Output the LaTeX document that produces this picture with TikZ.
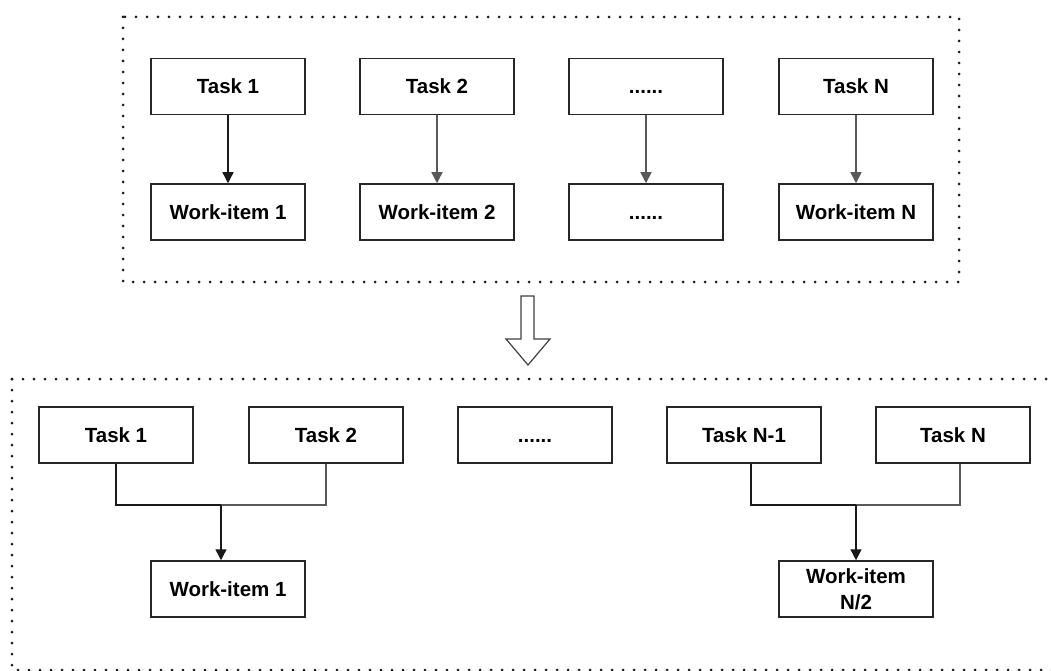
\documentclass[tikz,border=0pt]{standalone}
\usepackage{fontspec}
\setmainfont{Liberation Sans}
\usetikzlibrary{arrows.meta}
\begin{document}
\begin{tikzpicture}[x=1pt,y=-1pt,
  box/.style={draw=black!85,line width=1.5pt,minimum width=154pt,minimum height=56pt,inner sep=0pt,
    font=\fontsize{20.5}{26}\selectfont\bfseries,align=center},
  frame/.style={draw=black!90,line width=3pt,line cap=round,dash pattern=on 0pt off 11pt},
  conn/.style={line width=1.4pt,draw=black!90},
  arr/.style={conn,-{Triangle[length=11pt,width=11pt]}}]
\useasboundingbox (0,0) rectangle (1051,671);
% frames
\draw[frame] (123,17) rectangle (959,282);
\draw[frame] (12,379) -- (12,670) -- (1070,670);
\draw[frame] (12,379) -- (1070,379);
% top row
\node[box] (t1) at (228,86.5) {Task 1};
\node[box] (t2) at (437,86.5) {Task 2};
\node[box] (t3) at (646,86.5) {\vphantom{Tk}......};
\node[box] (t4) at (856,86.5) {Task N};
\node[box] (w1) at (228,212) {Work-item 1};
\node[box] (w2) at (437,212) {Work-item 2};
\node[box] (w3) at (646,212) {\vphantom{Tk}......};
\node[box] (w4) at (856,212) {Work-item N};
\draw[arr] (t1) -- (w1);
\draw[arr,draw=black!65] (t2) -- (w2);
\draw[arr,draw=black!65] (t3) -- (w3);
\draw[arr,draw=black!65] (t4) -- (w4);
% big hollow arrow
\draw[line width=1.2pt,draw=black!75,fill=white,line join=miter]
  (521,296) -- (534,296) -- (534,339) -- (550,339) -- (528,365) -- (506,339) -- (521,339) -- cycle;
% bottom row
\node[box] (b1) at (116,435) {Task 1};
\node[box] (b2) at (326,435) {Task 2};
\node[box] (b3) at (535,435) {\vphantom{Tk}......};
\node[box] (b4) at (744,435) {Task N-1};
\node[box] (b5) at (953,435) {Task N};
\node[box] (bw1) at (228,589) {Work-item 1};
\node[box] (bw2) at (856,589) {Work-item\\N/2};
\coordinate (j1) at (221,505);
\coordinate (j2) at (856,505);
\draw[conn] (b1.south) -- (b1.south |- j1) -- (j1);
\draw[conn,draw=black!65] (b2.south) -- (b2.south |- j1) -- (j1);
\draw[arr] (j1) -- (j1 |- bw1.north);
\draw[conn] ([xshift=7pt]b4.south) -- ([xshift=7pt]b4.south |- j2) -- (j2);
\draw[conn,draw=black!65] ([xshift=7pt]b5.south) -- ([xshift=7pt]b5.south |- j2) -- (j2);
\draw[arr] (j2) -- (bw2.north);
\end{tikzpicture}
\end{document}
